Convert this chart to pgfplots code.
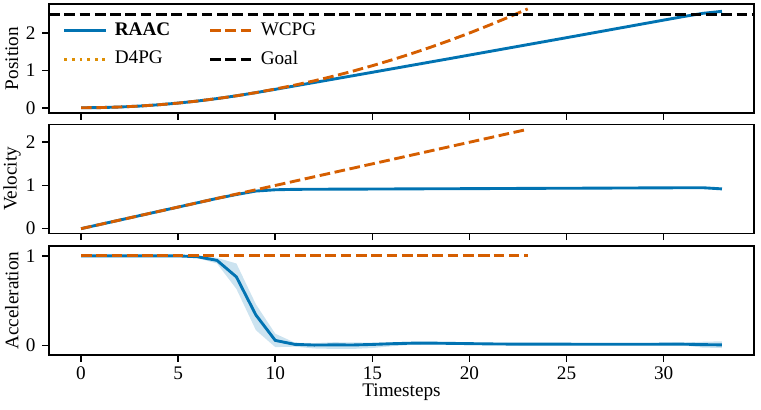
\documentclass[border=0pt]{standalone}
\usepackage{fontspec}
\setmainfont{Liberation Serif}
\usepackage{pgfplots}
\usepackage{pgfplotstable}
\pgfplotsset{compat=1.18}
\definecolor{raac}{RGB}{1,115,178}
\definecolor{wcpg}{RGB}{213,94,0}
\definecolor{d4pg}{RGB}{222,143,5}

\pgfplotstableread{
t p v a
0 0.000 0.00 1.000
1 0.005 0.10 1.000
2 0.020 0.20 1.000
3 0.045 0.30 1.000
4 0.080 0.40 1.000
5 0.125 0.50 1.000
6 0.180 0.60 0.990
7 0.245 0.70 0.950
8 0.320 0.79 0.765
9 0.404 0.87 0.340
10 0.493 0.900 0.055
11 0.584 0.910 0.011
12 0.675 0.912 0.003
13 0.766 0.914 0.005
14 0.857 0.915 0.004
15 0.949 0.917 0.010
16 1.041 0.919 0.018
17 1.133 0.921 0.024
18 1.225 0.923 0.025
19 1.317 0.924 0.022
20 1.410 0.926 0.019
21 1.503 0.928 0.016
22 1.596 0.930 0.014
23 1.689 0.932 0.013
24 1.782 0.934 0.013
25 1.875 0.935 0.013
26 1.969 0.937 0.012
27 2.063 0.939 0.012
28 2.157 0.941 0.012
29 2.251 0.943 0.012
30 2.345 0.945 0.013
31 2.438 0.946 0.013
32 2.525 0.948 0.008
33 2.580 0.920 0.005
}\raactab

% band: upper edge forward, lower edge backward
\pgfplotstableread{
t y
0 1.000
1 1.000
2 1.000
3 1.000
4 1.000
5 1.000
6 1.000
7 0.978
8 0.915
9 0.460
10 0.130
11 0.030
12 0.025
13 0.035
14 0.033
15 0.030
16 0.035
17 0.040
18 0.040
19 0.035
20 0.030
21 0.028
22 0.026
23 0.026
24 0.026
25 0.026
26 0.025
27 0.025
28 0.025
29 0.025
30 0.028
31 0.030
32 0.040
33 0.045
33 -0.030
32 -0.025
31 0.000
30 0.000
29 0.000
28 0.000
27 0.000
26 0.000
25 0.000
24 0.000
23 0.000
22 0.002
21 0.005
20 0.008
19 0.008
18 0.008
17 0.005
16 -0.010
15 -0.030
14 -0.040
13 -0.040
12 -0.035
11 -0.015
10 -0.020
9 0.170
8 0.630
7 0.915
6 0.975
5 0.998
4 1.000
3 1.000
2 1.000
1 1.000
0 1.000
}\bandtab

\pgfplotstableread{
t p v a
0 0.000 0.0 1
1 0.005 0.1 1
2 0.020 0.2 1
3 0.045 0.3 1
4 0.080 0.4 1
5 0.125 0.5 1
6 0.180 0.6 1
7 0.245 0.7 1
8 0.320 0.8 1
9 0.405 0.9 1
10 0.500 1.0 1
11 0.605 1.1 1
12 0.720 1.2 1
13 0.845 1.3 1
14 0.980 1.4 1
15 1.125 1.5 1
16 1.280 1.6 1
17 1.445 1.7 1
18 1.620 1.8 1
19 1.805 1.9 1
20 2.000 2.0 1
21 2.205 2.1 1
22 2.420 2.2 1
23 2.645 2.3 1
}\wcpgtab

\pgfplotsset{
  base/.style={
    scale only axis, width=366.86pt, height=56.6pt,
    xmin=-1.65, xmax=34.65,
    axis line style={line width=0.8pt},
    tick align=outside, major tick length=3.5pt,
    tick style={black, line width=0.8pt},
    xtick pos=bottom, ytick pos=left,
    xtick={0,5,10,15,20,25,30},
    xticklabel style={yshift=1pt},
    /pgf/number format/assume math mode=true,
    every axis y label/.style={at={(rel axis cs:0,0.5)}, xshift=-19.3pt, rotate=90, anchor=center},
  },
  raacline/.style={raac, line width=1.5pt},
  wcpgline/.style={wcpg, line width=1.5pt, dash pattern=on 5.55pt off 2.4pt},
  d4pgline/.style={d4pg, line width=1.5pt, dash pattern=on 1.5pt off 2.475pt},
  goalline/.style={black, line width=1.5pt, dash pattern=on 5.55pt off 2.4pt},
}

\begin{document}
\begin{tikzpicture}
\useasboundingbox (-25.5pt,-28.62pt) rectangle (370.5pt,184.73pt);

% Bottom: acceleration
\begin{axis}[base, at={(0pt,0pt)}, anchor=south west,
  ymin=-0.108, ymax=1.108, ytick={0,1},
  ylabel={Acceleration}, xlabel={Timesteps},
  every axis x label/.style={at={(rel axis cs:0.5,0)}, anchor=center, yshift=-19.4pt},
]
\addplot[fill=raac, fill opacity=0.2, draw=none] table[x=t, y=y] {\bandtab} -- cycle;
\addplot[raacline] table[x=t, y=a] {\raactab};
\addplot[wcpgline] table[x=t, y=a] {\wcpgtab};
\end{axis}

% Middle: velocity
\begin{axis}[base, at={(0pt,63.33pt)}, anchor=south west,
  ymin=-0.107, ymax=2.41, ytick={0,1,2}, xticklabels={},
  ylabel={Velocity},
]
\addplot[raacline] table[x=t, y=v] {\raactab};
\addplot[wcpgline] table[x=t, y=v] {\wcpgtab};
\end{axis}

% Top: position
\begin{axis}[base, at={(0pt,125.93pt)}, anchor=south west,
  ymin=-0.14, ymax=2.77, ytick={0,1,2}, xticklabels={},
  ylabel={Position},
  legend columns=2,
  legend style={draw=none, fill=none,
    at={(rel axis cs:0,1)}, anchor=north west, xshift=4pt, yshift=-5.5pt,
    row sep=2.5pt,
    /tikz/every even column/.append style={column sep=18pt}},
  legend image code/.code={\draw[#1] (0pt,0pt) -- (21.5pt,0pt); \path[draw=none] (24.3pt,0pt) -- (24.3pt,0pt);},
  legend cell align=left,
]
\addplot[raacline, forget plot] table[x=t, y=p] {\raactab};
\addplot[wcpgline, forget plot] table[x=t, y=p] {\wcpgtab};
\addplot[goalline, forget plot] coordinates {(-1.65,2.5) (34.65,2.5)};
\addlegendimage{raacline}
\addlegendentry{\textbf{RAAC}}
\addlegendimage{wcpgline}
\addlegendentry{WCPG}
\addlegendimage{d4pgline}
\addlegendentry{D4PG}
\addlegendimage{goalline}
\addlegendentry{Goal}
\end{axis}
\end{tikzpicture}
\end{document}
